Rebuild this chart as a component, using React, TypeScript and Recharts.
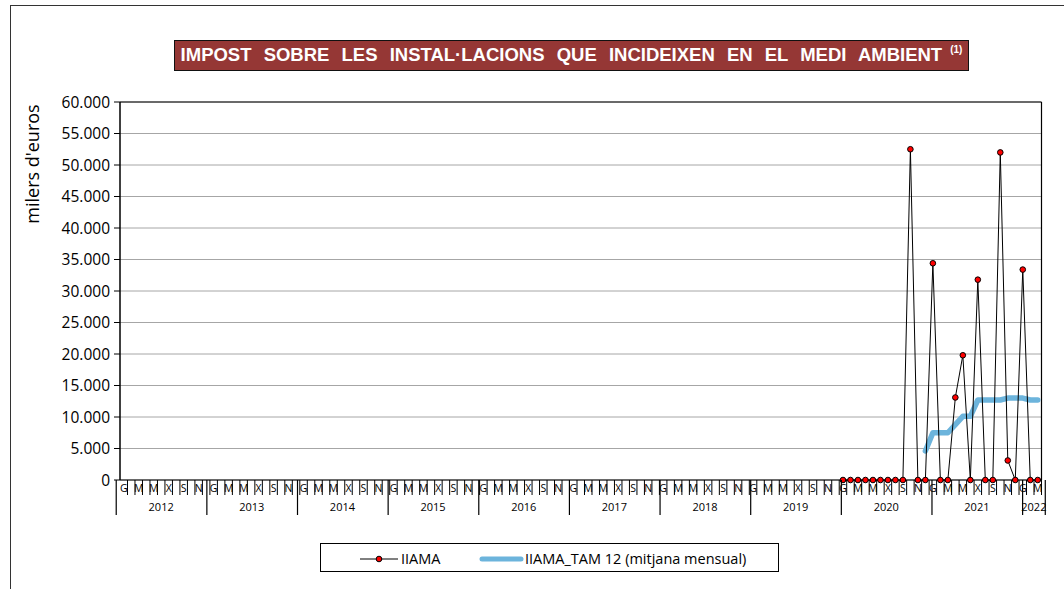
import { LineChart, Line, XAxis, YAxis, CartesianGrid, ReferenceLine, Legend, Label } from 'recharts';

const YEARS = [2012, 2013, 2014, 2015, 2016, 2017, 2018, 2019, 2020, 2021, 2022];
const MONTH_LETTERS = ['G', 'F', 'M', 'A', 'M', 'J', 'X', 'A', 'S', 'O', 'N', 'D'];
const MONTHS_IN_LAST_YEAR = 3;

// milers d'euros, monthly
const IIAMA_2020 = [0, 0, 0, 0, 0, 0, 0, 0, 0, 52500, 0, 0];
const IIAMA_2021 = [34400, 0, 0, 13100, 19800, 0, 31800, 0, 0, 52000, 3100, 0];
const IIAMA_2022 = [33400, 0, 0];

// 12-month moving average, from Dec 2020 to Mar 2022
const TAM12_START = { year: 2020, month: 11 };
const TAM12 = [4600, 7500, 7500, 7500, 8800, 10100, 10100, 12700, 12700, 12700, 12700, 13000, 13000, 13000, 12700, 12700];

const Y_TICKS = [0, 5000, 10000, 15000, 20000, 25000, 30000, 35000, 40000, 45000, 50000, 55000, 60000];

const IIAMA_BY_YEAR: Record<number, number[]> = { 2020: IIAMA_2020, 2021: IIAMA_2021, 2022: IIAMA_2022 };

const months: { year: number; m: number }[] = [];
YEARS.forEach((year, yi) => {
  const count = yi === YEARS.length - 1 ? MONTHS_IN_LAST_YEAR : 12;
  for (let m = 0; m < count; m++) months.push({ year, m });
});
const tamStart = months.findIndex((d) => d.year === TAM12_START.year && d.m === TAM12_START.month);

const data = months.map((d, i) => ({
  i,
  year: d.year,
  m: d.m,
  iiama: IIAMA_BY_YEAR[d.year]?.[d.m] ?? null,
  tam: i >= tamStart && i - tamStart < TAM12.length ? TAM12[i - tamStart] : null,
}));

const N = data.length;
const yearStarts = YEARS.map((y) => months.findIndex((d) => d.year === y));
const yearBounds = [...yearStarts.map((s) => s - 0.5), N - 0.5];

const W = 1064;
const H = 589;
const PLOT_LEFT = 120;
const PLOT_RIGHT = 1041.5;
const STEP = (PLOT_RIGHT - PLOT_LEFT) / N;
const FONT = "'Open Sans', sans-serif";

const fmt = (v: number) => String(v).replace(/\B(?=(\d{3})+(?!\d))/g, '.');

const MonthTick = ({ x, y, payload }: any) => {
  const d = data[payload.value];
  if (!d) return null;
  return (
    <g>
      <line x1={x + STEP / 2} x2={x + STEP / 2} y1={y} y2={y + 15} stroke="#000" strokeWidth={1} />
      {d.m % 2 === 0 && (
        <text x={x} y={y + 12} textAnchor="middle" fontSize={10.5} fontFamily={FONT} fill="#000">
          {MONTH_LETTERS[d.m]}
        </text>
      )}
    </g>
  );
};

const YearTick = ({ x, y, index }: any) => {
  const isLast = index === yearBounds.length - 1;
  const span = isLast ? 0 : yearBounds[index + 1] - yearBounds[index];
  return (
    <g>
      <line x1={x} x2={x} y1={y - 15} y2={y + 20} stroke="#000" strokeWidth={1.2} />
      {!isLast && (
        <text x={x + (span * STEP) / 2} y={y + 16} textAnchor="middle" fontSize={11} fontFamily={FONT} fill="#000">
          {YEARS[index]}
        </text>
      )}
    </g>
  );
};

const renderLegend = () => (
  <svg width={459} height={29} style={{ display: 'block', border: '1px solid #000', boxSizing: 'border-box' }}>
    <line x1={39} x2={77} y1={15} y2={15} stroke="#000" strokeWidth={1} />
    <circle cx={58} cy={15} r={2.8} fill="#ff0000" stroke="#000" strokeWidth={1} />
    <text x={80} y={20} fontSize={14.5} fontFamily={FONT} fill="#000">IIAMA</text>
    <line x1={161} x2={200} y1={15} y2={15} stroke="#6cb4dc" strokeWidth={5} strokeLinecap="round" />
    <text x={204} y={20} fontSize={14.5} fontFamily={FONT} fill="#000">IIAMA_TAM 12 (mitjana mensual)</text>
  </svg>
);

export default function App() {
  return (
    <div style={{ position: 'fixed', left: 0, top: 0, width: W, height: H, overflow: 'hidden', background: '#fff' }}>
      <div
        style={{
          position: 'absolute',
          left: 10,
          top: 5,
          width: W + 100,
          height: H + 100,
          border: '1.5px solid #333',
        }}
      />
      <div
        style={{
          position: 'absolute',
          left: 174,
          top: 40,
          width: 795,
          height: 31,
          boxSizing: 'border-box',
          background: '#953735',
          border: '1.5px solid #111',
          color: '#fff',
          fontFamily: "'Liberation Sans', Arial, sans-serif",
          fontWeight: 'bold',
          fontSize: 18.5,
          lineHeight: '28px',
          textAlign: 'center',
          whiteSpace: 'pre',
          wordSpacing: 7,
        }}
      >
        IMPOST SOBRE LES INSTAL·LACIONS QUE INCIDEIXEN EN EL MEDI AMBIENT
        <sup style={{ fontSize: 10, verticalAlign: 'top', lineHeight: '18px', marginLeft: 8 }}>(1)</sup>
      </div>
      <LineChart
        width={W}
        height={H}
        data={data}
        margin={{ top: 102, right: W - PLOT_RIGHT, left: PLOT_LEFT - 60, bottom: 72 }}
        style={{ position: 'absolute', left: 0, top: 0 }}
      >
        <CartesianGrid vertical={false} stroke="#a6a6a6" strokeWidth={1} />
        <XAxis
          dataKey="i"
          type="number"
          domain={[-0.5, N - 0.5]}
          ticks={data.map((d) => d.i)}
          interval={0}
          tickSize={0}
          tickMargin={0}
          tick={<MonthTick />}
          axisLine={{ stroke: '#000', strokeWidth: 1.2 }}
          tickLine={false}
          height={15}
        />
        <XAxis
          xAxisId="years"
          type="number"
          domain={[-0.5, N - 0.5]}
          ticks={yearBounds}
          interval={0}
          tickSize={0}
          tickMargin={0}
          tick={<YearTick />}
          axisLine={false}
          tickLine={false}
          height={22}
        />
        <YAxis
          domain={[0, 60000]}
          ticks={Y_TICKS}
          interval={0}
          width={60}
          tickFormatter={fmt}
          tickSize={6}
          tickMargin={4}
          tick={{ fontSize: 15.5, fontFamily: FONT, fill: '#000' }}
          tickLine={{ stroke: '#000' }}
          axisLine={{ stroke: '#000', strokeWidth: 1.5 }}
        >
          <Label
            content={() => (
              <text
                transform="translate(39,164) rotate(-90)"
                textAnchor="middle"
                fontSize={18}
                fontFamily={FONT}
                fill="#000"
              >
                milers d'euros
              </text>
            )}
          />
        </YAxis>
        <ReferenceLine y={60000} stroke="#000" strokeWidth={1} />
        <ReferenceLine x={N - 0.5} stroke="#000" strokeWidth={1.2} />
        <Line
          dataKey="tam"
          type="linear"
          stroke="#6cb4dc"
          strokeWidth={5.5}
          strokeLinecap="round"
          strokeLinejoin="round"
          dot={false}
          activeDot={false}
          isAnimationActive={false}
        />
        <Line
          dataKey="iiama"
          type="linear"
          stroke="#000"
          strokeWidth={1}
          dot={{ r: 2.8, fill: '#ff0000', stroke: '#000', strokeWidth: 1 }}
          activeDot={false}
          isAnimationActive={false}
        />
        <Legend
          layout="horizontal"
          verticalAlign="middle"
          align="center"
          wrapperStyle={{ position: 'absolute', left: 320, top: 543, width: 459, height: 29 }}
          content={renderLegend}
        />
      </LineChart>
    </div>
  );
}
